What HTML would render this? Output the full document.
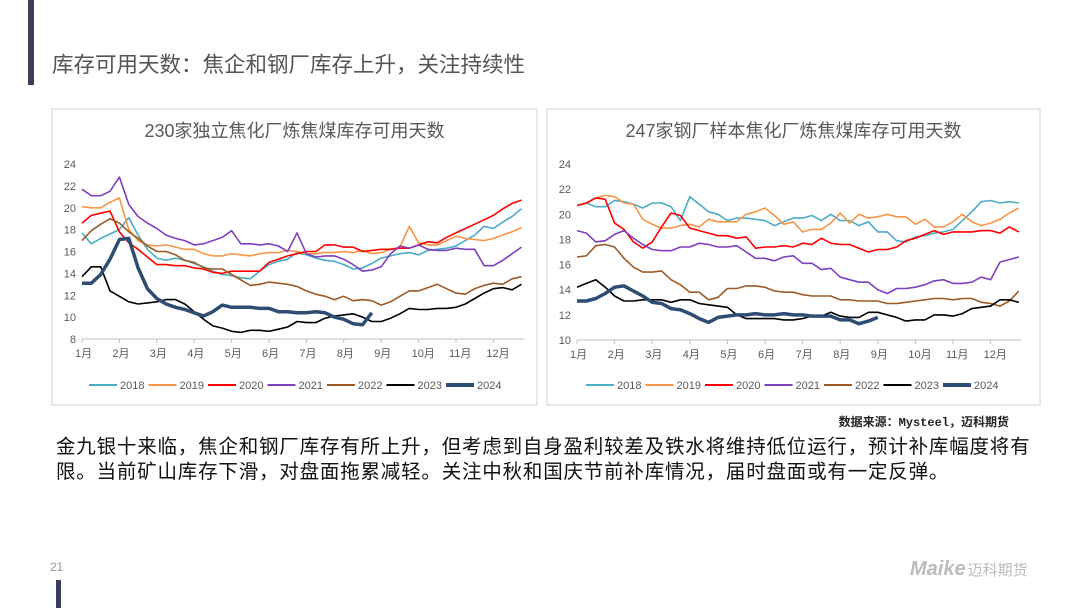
<!DOCTYPE html>
<html><head><meta charset="utf-8">
<style>
body{margin:0;width:1080px;height:608px;background:#fff;position:relative;overflow:hidden;font-family:"Liberation Sans","Noto Sans CJK SC",sans-serif;}
.abs{position:absolute;}
</style></head>
<body>
<div class="abs" style="left:28px;top:0;width:6px;height:85px;background:#3b3f58"></div>
<div class="abs" style="left:52px;top:48px;font-size:21.5px;color:#555;white-space:nowrap">库存可用天数：焦企和钢厂库存上升，关注持续性</div>
<svg class="abs" style="left:0;top:0" width="1080" height="608" id="charts"></svg>
<div class="abs" style="right:71px;top:413px;font-size:12px;font-weight:bold;color:#222;white-space:nowrap;font-family:'Liberation Mono','Noto Sans CJK SC',monospace">数据来源：Mysteel，迈科期货</div>
<div class="abs" style="left:56px;top:435px;width:1010px;font-size:19.5px;line-height:25px;color:#111;letter-spacing:0.8px;white-space:nowrap">金九银十来临，焦企和钢厂库存有所上升，但考虑到自身盈利较差及铁水将维持低位运行，预计补库幅度将有<br>限。当前矿山库存下滑，对盘面拖累减轻。关注中秋和国庆节前补库情况，届时盘面或有一定反弹。</div>
<div class="abs" style="left:50px;top:560px;font-size:12px;color:#999">21</div>
<div class="abs" style="left:56px;top:580px;width:5px;height:28px;background:#3b3f58"></div>
<div class="abs" style="left:910px;top:558px;font-size:20px;font-weight:bold;font-style:italic;color:#bbb;white-space:nowrap">Maike<span style="font-size:15px;font-style:normal;font-weight:normal;margin-left:2px">迈科期货</span></div>
<script>
const months=["1月","2月","3月","4月","5月","6月","7月","8月","9月","10月","11月","12月"];
const years=["2018","2019","2020","2021","2022","2023","2024"];
const colors=["#4bacc6","#f79646","#ff0000","#7f3fbf","#9c5b26","#000000","#2e4d74"];
const L2018=[17.7,16.7,17.2,17.6,18.0,19.1,17.5,16.2,15.4,15.2,15.4,15.2,14.9,14.6,14.2,13.9,13.8,13.6,13.5,14.2,14.8,15.1,15.3,15.9,15.7,15.4,15.2,15.1,14.8,14.4,14.5,14.9,15.4,15.6,15.8,15.9,15.7,16.1,16.2,16.3,16.5,17.0,17.5,18.3,18.1,18.7,19.2,19.9];
const L2019=[20.1,20.0,20.0,20.5,20.9,18.0,17.0,16.6,16.5,16.6,16.4,16.2,16.2,15.8,15.6,15.6,15.8,15.7,15.6,15.8,15.9,15.9,16.1,16.0,15.8,15.8,15.9,15.9,16.0,15.9,16.1,15.8,15.9,16.2,16.4,18.3,16.8,16.6,16.6,17.0,17.4,17.2,17.1,17.0,17.2,17.5,17.8,18.2];
const L2020=[18.6,19.3,19.5,19.7,17.8,16.8,16.2,15.5,14.8,14.8,14.7,14.7,14.5,14.4,14.1,14.0,14.2,14.2,14.2,14.2,15.0,15.3,15.6,15.8,16.0,16.0,16.6,16.6,16.4,16.4,16.0,16.1,16.2,16.2,16.3,16.3,16.6,16.9,16.8,17.3,17.7,18.1,18.5,18.9,19.3,19.9,20.4,20.7];
const L2021=[21.7,21.1,21.1,21.5,22.8,20.3,19.2,18.6,18.1,17.5,17.2,17.0,16.6,16.7,17.0,17.3,17.9,16.7,16.7,16.6,16.7,16.5,16.0,17.7,15.8,15.5,15.6,15.6,15.3,14.8,14.2,14.3,14.6,15.8,16.5,16.3,16.6,16.2,16.1,16.1,16.3,16.2,16.2,14.7,14.7,15.2,15.8,16.4];
const L2022=[17.0,17.9,18.5,19.0,18.6,17.8,17.2,16.5,16.0,16.0,15.7,15.2,15.0,14.5,14.4,14.4,13.9,13.4,12.9,13.0,13.2,13.1,13.0,12.8,12.4,12.1,11.9,11.6,11.9,11.5,11.6,11.5,11.1,11.4,11.9,12.4,12.4,12.7,13.0,12.6,12.2,12.1,12.6,12.9,13.1,13.0,13.5,13.7];
const L2023=[13.7,14.6,14.6,12.4,11.9,11.4,11.2,11.3,11.4,11.6,11.6,11.2,10.5,9.8,9.2,9.0,8.7,8.6,8.8,8.8,8.7,8.9,9.1,9.6,9.5,9.5,9.9,10.1,10.2,10.3,10.0,9.6,9.6,9.9,10.3,10.8,10.7,10.7,10.8,10.8,10.9,11.2,11.7,12.2,12.6,12.7,12.5,13.0];
const L2024=[13.1,13.1,13.9,15.3,17.1,17.2,14.5,12.6,11.7,11.2,10.9,10.7,10.4,10.1,10.5,11.1,10.9,10.9,10.9,10.8,10.8,10.5,10.5,10.4,10.4,10.5,10.4,10.0,9.8,9.4,9.3,10.4];
const R2018=[20.7,20.9,20.6,20.6,21.1,21.0,20.8,20.5,20.9,20.9,20.6,19.5,21.4,20.8,20.2,20.0,19.5,19.7,19.7,19.6,19.5,19.1,19.4,19.7,19.7,19.9,19.5,20.0,19.5,19.5,19.1,19.4,18.6,18.6,17.9,17.8,18.2,18.3,18.5,18.6,18.8,19.5,20.2,21.0,21.1,20.9,21.0,20.9];
const R2019=[20.7,20.9,21.3,21.5,21.4,20.9,20.8,19.6,19.2,18.9,18.9,19.1,19.2,19.0,19.6,19.4,19.4,19.4,20.0,20.2,20.5,19.9,19.2,19.4,18.6,18.8,18.8,19.3,20.1,19.3,20.0,19.7,19.8,20.0,19.8,19.8,19.2,19.6,19.0,19.0,19.4,20.0,19.4,19.1,19.3,19.6,20.1,20.5];
const R2020=[20.7,20.9,21.3,21.2,19.3,18.8,17.8,17.3,17.8,19.0,20.1,19.9,18.9,18.7,18.5,18.3,18.3,18.1,18.2,17.3,17.4,17.4,17.5,17.4,17.7,17.6,18.1,17.7,17.6,17.6,17.3,17.0,17.2,17.2,17.4,17.9,18.1,18.4,18.7,18.4,18.6,18.6,18.6,18.7,18.7,18.5,19.0,18.6];
const R2021=[18.7,18.5,17.8,17.9,18.4,18.7,18.1,17.6,17.2,17.1,17.1,17.4,17.4,17.7,17.6,17.4,17.4,17.5,17.0,16.5,16.5,16.3,16.6,16.7,16.1,16.1,15.6,15.7,15.0,14.8,14.6,14.6,14.0,13.7,14.1,14.1,14.2,14.4,14.7,14.8,14.5,14.5,14.6,15.0,14.8,16.2,16.4,16.6];
const R2022=[16.6,16.7,17.5,17.6,17.4,16.5,15.8,15.4,15.4,15.5,14.8,14.4,13.8,13.8,13.2,13.4,14.1,14.1,14.3,14.3,14.2,13.9,13.8,13.8,13.6,13.5,13.5,13.5,13.2,13.2,13.1,13.1,13.1,12.9,12.9,13.0,13.1,13.2,13.3,13.3,13.2,13.3,13.3,13.0,12.9,12.7,13.1,13.9];
const R2023=[14.2,14.5,14.8,14.2,13.5,13.1,13.1,13.2,13.2,13.2,13.0,13.2,13.2,12.9,12.8,12.7,12.6,12.0,11.7,11.7,11.7,11.7,11.6,11.6,11.7,11.9,11.9,12.2,11.9,11.8,11.8,12.2,12.2,12.0,11.8,11.5,11.6,11.6,12.0,12.0,11.9,12.1,12.5,12.6,12.7,13.2,13.2,13.0];
const R2024=[13.1,13.1,13.3,13.7,14.2,14.3,13.9,13.5,13.0,12.9,12.5,12.4,12.1,11.7,11.4,11.8,11.9,12.0,12.0,12.1,12.0,12.0,12.1,12.0,12.0,11.9,11.9,11.9,11.6,11.6,11.3,11.5,11.8];
const leftTicks=[8,10,12,14,16,18,20,22,24];
const rightTicks=[10,12,14,16,18,20,22,24];

const NS="http://www.w3.org/2000/svg";
const svg=document.getElementById('charts');
function mk(t,a,p){const e=document.createElementNS(NS,t);for(const k in a)e.setAttribute(k,a[k]);(p||svg).appendChild(e);return e;}

function chart(cfg){
  const g=mk('g',{});
  
  
  const box=mk('rect',{x:cfg.bx,y:109,width:cfg.bw,height:296,fill:'#fff',stroke:'#d9d9d9','stroke-width':1.2},g);
  
  
  const t=mk('text',{x:cfg.bx+cfg.bw/2,y:137,'text-anchor':'middle','font-size':18,fill:'#595959','font-family':'"Liberation Sans","Noto Sans CJK SC",sans-serif'},g);
  t.textContent=cfg.title;
  
  
  const ymin=cfg.ticks[0],ymax=cfg.ticks[cfg.ticks.length-1];
  const X=m=>cfg.x0+m*cfg.mw;
  const Y=v=>cfg.yb-(v-ymin)/(ymax-ymin)*(cfg.yb-cfg.yt);
  cfg.ticks.forEach(v=>{
    const tl=mk('text',{x:cfg.x0-6,y:Y(v)+4,'text-anchor':'end','font-size':11,fill:'#595959'},g);
    tl.textContent=v;
    
    
  });
  const ax=mk('line',{x1:X(0),x2:X(11.75)+3,y1:cfg.yb,y2:cfg.yb,stroke:'#bfbfbf','stroke-width':1},g);
  
  
  months.forEach((m,i)=>{
    mk('line',{x1:X(i),x2:X(i),y1:cfg.yb,y2:cfg.yb+4,stroke:'#bfbfbf'},g);
    const ml=mk('text',{x:X(i)-7,y:cfg.yb+18,'font-size':11,fill:'#595959','font-family':'"Liberation Sans","Noto Sans CJK SC",sans-serif'},g);
    ml.textContent=m;
    
    
  });
  cfg.series.forEach((d,k)=>{
    const pts=d.map((v,i)=>X(i*0.25).toFixed(1)+','+Y(v).toFixed(1)).join(' ');
    const pl=mk('polyline',{points:pts,fill:'none',stroke:colors[k],'stroke-width':k===6?3.5:1.6,'stroke-linejoin':'round'},g);
    
    
  });
  years.forEach((y,k)=>{
    const lx=cfg.lx+k*59.5;
    const ll=mk('line',{x1:lx,x2:lx+28,y1:385,y2:385,stroke:colors[k],'stroke-width':k===6?4:2},g);
    
    
    const lt=mk('text',{x:lx+31,y:389,'font-size':11,fill:'#595959'},g);
    lt.textContent=y;
    
    
  });
}
chart({name:'left-chart',bx:52,bw:485,title:'230家独立焦化厂炼焦煤库存可用天数',x0:82,mw:37.4,yt:164,yb:339,ticks:leftTicks,lx:89,series:[L2018,L2019,L2020,L2021,L2022,L2023,L2024]});
chart({name:'right-chart',bx:547,bw:493,title:'247家钢厂样本焦化厂炼焦煤库存可用天数',x0:577,mw:37.6,yt:164,yb:340,ticks:rightTicks,lx:586,series:[R2018,R2019,R2020,R2021,R2022,R2023,R2024]});
</script>
</body></html>
